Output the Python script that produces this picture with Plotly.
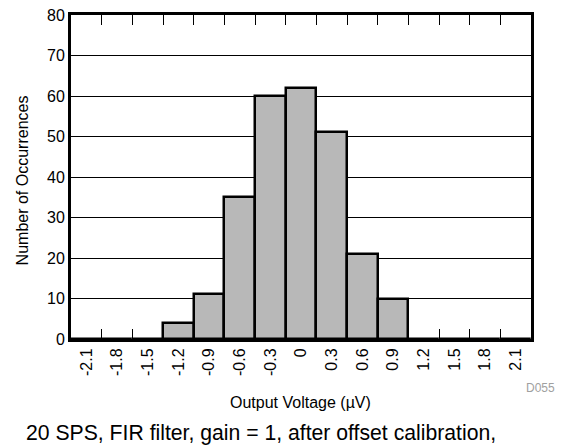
import plotly.graph_objects as go

categories = ["-2.1", "-1.8", "-1.5", "-1.2", "-0.9", "-0.6", "-0.3", "0",
              "0.3", "0.6", "0.9", "1.2", "1.5", "1.8", "2.1"]
counts = [0, 0, 0, 4, 11, 35, 60, 62, 51, 21, 10, 0, 0, 0, 0]

FONT = "Liberation Sans, Arial, sans-serif"

fig = go.Figure()
fig.add_trace(go.Bar(
    x=categories, y=counts,
    marker=dict(color="#b8b8b8", line=dict(color="black", width=2.5)),
    width=1.0,
))

fig.update_layout(
    width=557, height=440,
    margin=dict(l=63, r=34, t=7, b=109),
    paper_bgcolor="white", plot_bgcolor="white",
    showlegend=False,
    bargap=0,
    font=dict(family=FONT, color="black"),
    xaxis=dict(
        type="category", tickson="boundaries",
        ticks="inside", ticklen=10, tickwidth=1, tickcolor="black",
        showline=True, linewidth=3, linecolor="black", mirror="allticks",
        showgrid=False, tickangle=-90, automargin=False,
        ticklabeloverflow="allow",
        tickfont=dict(size=16, family=FONT),
    ),
    yaxis=dict(
        range=[0, 80], dtick=10,
        showline=True, linewidth=3, linecolor="black", mirror=True,
        showgrid=True, gridcolor="black", gridwidth=1,
        ticks="", zeroline=False, automargin=False,
        ticklabeloverflow="allow",
        tickfont=dict(size=16, family=FONT),
    ),
    annotations=[
        dict(text="Number of Occurrences", xref="paper", yref="paper",
             x=(22.5 - 71) / 460, y=0.488, textangle=-90, showarrow=False,
             font=dict(size=16, family=FONT), xanchor="center", yanchor="middle"),
        dict(text="Output Voltage (\u00b5V)", xref="paper", yref="paper",
             x=0.498, y=-0.1975, showarrow=False,
             font=dict(size=16, family=FONT), xanchor="center", yanchor="middle"),
        dict(text="D055", xref="paper", yref="paper",
             x=1.0207, y=-0.152, showarrow=False,
             font=dict(size=12, family=FONT, color="#a0a0a0"),
             xanchor="center", yanchor="middle"),
        dict(text="20 SPS, FIR filter, gain = 1, after offset calibration,",
             xref="paper", yref="paper", x=(24 - 71) / 460, y=-0.29,
             showarrow=False, font=dict(size=21.2, family=FONT),
             xanchor="left", yanchor="middle"),
    ],
)

fig.write_html("out.html")
